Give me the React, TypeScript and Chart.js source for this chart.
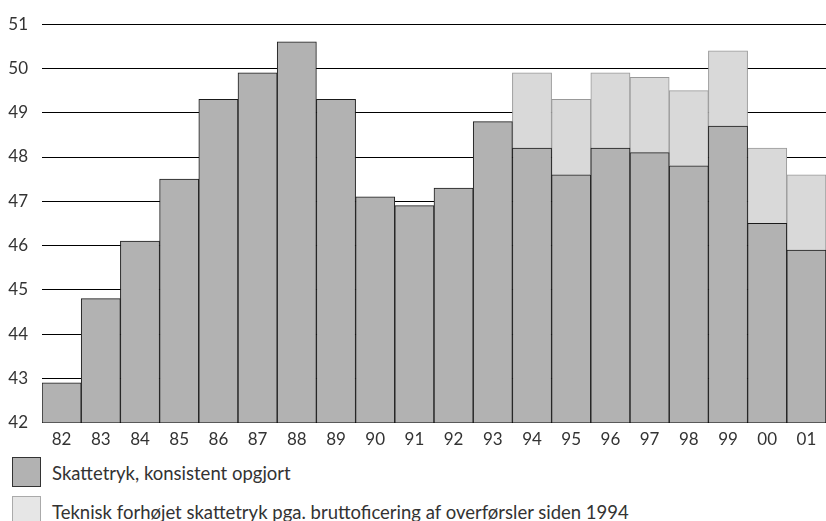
import React, { useEffect, useRef } from "react";
import { Chart, registerables } from "chart.js";

Chart.register(...registerables);

const categories = ["82", "83", "84", "85", "86", "87", "88", "89", "90", "91", "92", "93", "94", "95", "96", "97", "98", "99", "00", "01"];
const consistentValues = [42.9, 44.8, 46.1, 47.5, 49.3, 49.9, 50.6, 49.3, 47.1, 46.9, 47.3, 48.8, 48.2, 47.6, 48.2, 48.1, 47.8, 48.7, 46.5, 45.9];
const technicalTotals = [null, null, null, null, null, null, null, null, null, null, null, null, 49.9, 49.3, 49.9, 49.8, 49.5, 50.4, 48.2, 47.6];
const yTicks = [42, 43, 44, 45, 46, 47, 48, 49, 50, 51];
const legendLabels = ["Skattetryk, konsistent opgjort", "Teknisk forhøjet skattetryk pga. bruttoficering af overførsler siden 1994"];

const FONT = "Lato, sans-serif";
const FS = 17;
const LEG_FS = 18.5;
const DARK = "#b2b2b2";
const LIGHT = "#d9d9d9";

export default function App() {
  const ref = useRef<HTMLCanvasElement | null>(null);

  useEffect(() => {
    document.body.style.margin = "0";
    const increments = technicalTotals.map((t, i) => (t == null ? null : +(t - consistentValues[i]).toFixed(2)));
    const chart = new Chart(ref.current!, {
      type: "bar",
      data: {
        labels: categories,
        datasets: [
          {
            label: legendLabels[0],
            data: consistentValues,
            backgroundColor: DARK,
            borderColor: "#1a1a1a",
            borderWidth: 1,
            barPercentage: 1,
            categoryPercentage: 1,
          },
          {
            label: legendLabels[1],
            data: increments,
            backgroundColor: LIGHT,
            borderColor: "#999999",
            borderWidth: 1,
            barPercentage: 1,
            categoryPercentage: 1,
          },
        ],
      },
      options: {
        animation: false,
        responsive: false,
        maintainAspectRatio: false,
        layout: { padding: { top: 15, right: 0, left: 0, bottom: 0 } },
        plugins: { legend: { display: false }, tooltip: { enabled: false } },
        scales: {
          x: {
            stacked: true,
            grid: { display: false, drawTicks: false },
            border: { display: false },
            ticks: { color: "#333", font: { family: FONT, size: FS }, padding: 7, maxRotation: 0 },
          },
          y: {
            stacked: true,
            min: 42,
            max: 51,
            afterFit: (s: any) => { s.width = 42; },
            afterBuildTicks: (s: any) => { s.ticks = yTicks.map((v) => ({ value: v })); },
            grid: { color: "#000", lineWidth: 1, drawTicks: false },
            border: { display: false },
            ticks: { color: "#333", font: { family: FONT, size: FS }, padding: 14 },
          },
        },
      },
    });
    return () => chart.destroy();
  }, []);

  const box = (bg: string, border: string): React.CSSProperties => ({
    position: "absolute", left: 12, width: 27, height: 28, background: bg, border: `1px solid ${border}`,
  });
  const text: React.CSSProperties = { position: "absolute", left: 52, fontFamily: FONT, fontSize: LEG_FS, lineHeight: "22px", color: "#333", whiteSpace: "nowrap" };

  return (
    <div style={{ position: "relative", width: 826, height: 521, overflow: "hidden", background: "#fff" }}>
      <canvas ref={ref} width={826} height={457} style={{ position: "absolute", left: 0, top: 0 }} />
      <div style={{ ...box(DARK, "#333"), top: 457 }} />
      <div style={{ ...text, top: 462 }}>{legendLabels[0]}</div>
      <div style={{ ...box("#e6e6e6", "#aaa"), top: 496 }} />
      <div style={{ ...text, top: 501 }}>{legendLabels[1]}</div>
    </div>
  );
}
